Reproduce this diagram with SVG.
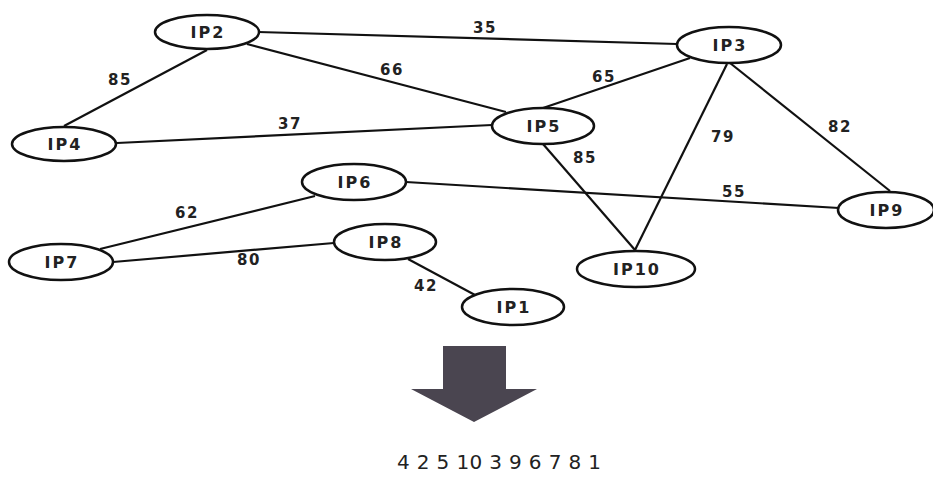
<svg xmlns="http://www.w3.org/2000/svg" width="933" height="493" viewBox="0 0 933 493">
<style>
.n ellipse{fill:#fff;stroke:#111;stroke-width:2.5}
.n text{font-family:"DejaVu Sans",Verdana,sans-serif;font-weight:bold;font-size:16px;letter-spacing:2px;fill:#222;text-anchor:middle}
#edges line{stroke:#111;stroke-width:2.2}
#edges text{font-family:"DejaVu Sans",Verdana,sans-serif;font-weight:bold;font-size:15px;letter-spacing:1.5px;fill:#222;text-anchor:middle}
</style>
<rect width="933" height="493" fill="#fff"/>
<g id="edges">
<line x1="258" y1="32" x2="677" y2="44"/>
<line x1="207" y1="50" x2="64" y2="126"/>
<line x1="247" y1="44" x2="506" y2="112"/>
<line x1="117" y1="143" x2="492" y2="125"/>
<line x1="690" y1="58" x2="543" y2="108"/>
<line x1="727" y1="64" x2="635" y2="250"/>
<line x1="730" y1="63" x2="890" y2="191"/>
<line x1="543" y1="144" x2="635" y2="250"/>
<line x1="406" y1="182" x2="839" y2="208"/>
<line x1="315" y1="196" x2="100" y2="249"/>
<line x1="113" y1="262" x2="334" y2="243"/>
<line x1="408" y1="259" x2="475" y2="295"/>
<text x="485" y="33">35</text>
<text x="120" y="85">85</text>
<text x="392" y="75">66</text>
<text x="290" y="129">37</text>
<text x="604" y="82">65</text>
<text x="723" y="142">79</text>
<text x="840" y="132">82</text>
<text x="585" y="163">85</text>
<text x="734" y="197">55</text>
<text x="187" y="218">62</text>
<text x="249" y="265">80</text>
<text x="426" y="291">42</text>
</g>
<g id="IP2" class="n"><ellipse cx="207" cy="32" rx="52" ry="17"/><text x="208" y="38">IP2</text></g>
<g id="IP3" class="n"><ellipse cx="729" cy="45" rx="52" ry="18"/><text x="730" y="51">IP3</text></g>
<g id="IP4" class="n"><ellipse cx="64" cy="144" rx="52" ry="17"/><text x="65" y="150">IP4</text></g>
<g id="IP5" class="n"><ellipse cx="543" cy="126" rx="51" ry="18"/><text x="544" y="132">IP5</text></g>
<g id="IP6" class="n"><ellipse cx="354" cy="182" rx="52" ry="18"/><text x="355" y="188">IP6</text></g>
<g id="IP8" class="n"><ellipse cx="385" cy="242" rx="51" ry="18"/><text x="386" y="248">IP8</text></g>
<g id="IP7" class="n"><ellipse cx="61" cy="262" rx="52" ry="18"/><text x="62" y="268">IP7</text></g>
<g id="IP1" class="n"><ellipse cx="513" cy="307" rx="51" ry="18"/><text x="514" y="313">IP1</text></g>
<g id="IP10" class="n"><ellipse cx="636" cy="269" rx="59" ry="18"/><text x="637" y="275">IP10</text></g>
<g id="IP9" class="n"><ellipse cx="886" cy="210" rx="48" ry="18"/><text x="887" y="216">IP9</text></g>
<polygon points="443,346 506,346 506,389 537,389 474,422 411,389 443,389" fill="#4a4550"/>
<text x="397" y="469" textLength="204" lengthAdjust="spacing" font-family="DejaVu Sans,Verdana,sans-serif" font-size="20" fill="#222">4 2 5 10 3 9 6 7 8 1</text>
</svg>
